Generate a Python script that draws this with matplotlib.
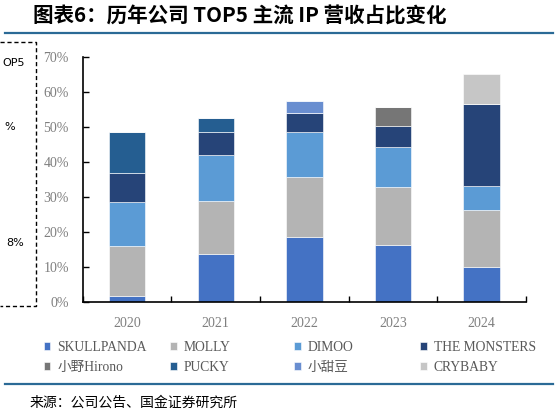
import matplotlib
matplotlib.use("Agg")
import matplotlib.pyplot as plt
import numpy as np
from matplotlib.lines import Line2D
from matplotlib.ticker import FuncFormatter

plt.rcParams["font.family"] = ["Liberation Serif", "Noto Sans CJK SC"]

years = ["2020", "2021", "2022", "2023", "2024"]
ip_names = ["SKULLPANDA", "MOLLY", "DIMOO", "THE MONSTERS",
            "小野Hirono", "PUCKY", "小甜豆", "CRYBABY"]
skullpanda = [1.5, 13.5, 18.5, 16.2, 9.9]
molly = [14.3, 15.4, 17.2, 16.5, 16.3]
dimoo = [12.8, 12.9, 12.8, 11.5, 6.9]
the_monsters = [8.1, 6.8, 5.4, 6.0, 23.5]
hirono = [0, 0, 0, 5.6, 0]
pucky = [11.9, 3.9, 0, 0, 0]
xiaotiandou = [0, 0, 3.6, 0, 0]
crybaby = [0, 0, 0, 0, 8.6]
series = [skullpanda, molly, dimoo, the_monsters, hirono, pucky, xiaotiandou, crybaby]
colors = ["#4472C4", "#B4B4B4", "#5B9BD5", "#264478",
          "#767676", "#255E91", "#698ED0", "#C6C6C6"]
y_ticks = [0, 10, 20, 30, 40, 50, 60, 70]

W, H = 559, 415
fig = plt.figure(figsize=(W / 100, H / 100), dpi=100)


def fx(px):
    return px / W


def fy(py):
    return 1 - py / H


# title + rules
fig.text(fx(33), fy(16), "图表6：历年公司 TOP5 主流 IP 营收占比变化", family=["Noto Sans CJK SC"],
         fontsize=14.8, fontweight="bold", style="italic", color="black", va="center", ha="left")
fig.add_artist(Line2D([fx(5), fx(553)], [fy(33.5), fy(33.5)], color="#2B6A96", lw=1.6))
fig.add_artist(Line2D([fx(5), fx(553)], [fy(384), fy(384)], color="#2B6A96", lw=1.6))
fig.text(fx(30), fy(403), "来源：公司公告、国金证券研究所", family=["Noto Sans CJK SC"],
         fontsize=10, color="black", va="center", ha="left")

# cropped dashed box on the left
fig.add_artist(Line2D([0, fx(36), fx(36), 0], [fy(42), fy(42), fy(306), fy(306)],
                      color="black", lw=1, ls=(0, (3, 2))))
fig.text(fx(2), fy(63), "OP5", family=["DejaVu Sans"], fontsize=8, ha="left", va="center")
fig.text(fx(4), fy(127), "%", family=["DejaVu Sans"], fontsize=8, ha="left", va="center")
fig.text(fx(6), fy(243), "8%", family=["DejaVu Sans"], fontsize=8, ha="left", va="center")

ax = fig.add_axes([fx(82.7), fy(301.5), fx(526) - fx(82.7), fy(57) - fy(301.5)])
x = np.arange(len(years))
bottom = np.zeros(len(years))
handles = []
for vals, name, c in zip(series, ip_names, colors):
    vals = np.array(vals, dtype=float)
    b = ax.bar(x, vals, 0.41, bottom=bottom, color=c, edgecolor="white", linewidth=0.4, label=name)
    handles.append(b)
    bottom += vals

ax.set_xlim(-0.5, len(years) - 0.5)
ax.set_ylim(0, 70)
ax.set_yticks(y_ticks)
ax.yaxis.set_major_formatter(FuncFormatter(lambda v, p: f"{v:.0f}%"))
ax.set_xticks(np.arange(len(years) + 1) - 0.5)
ax.set_xticklabels([])
ax.set_xticks(x, minor=True)
ax.set_xticklabels(years, minor=True)
ax.tick_params(axis="x", which="major", direction="in", length=4, width=1)
ax.tick_params(axis="x", which="minor", length=0, pad=11, labelsize=10, labelcolor="#7f7f7f")
ax.tick_params(axis="y", direction="in", length=4, width=1, pad=10, labelsize=10, labelcolor="#7f7f7f")
for s in ["top", "right"]:
    ax.spines[s].set_visible(False)
for s in ["left", "bottom"]:
    ax.spines[s].set_linewidth(1.2)

# legend, laid out row by row in four columns
col_x = [43.5, 170, 294, 420]
row_y = [347.3, 367.3]
for k in range(len(ip_names)):
    r, cidx = divmod(k, 4)
    fig.legend([handles[k]], [ip_names[k]], loc="center left",
               bbox_to_anchor=(fx(col_x[cidx]), fy(row_y[r])), frameon=False,
               fontsize=9.8, handlelength=0.5, handleheight=0.5, handletextpad=0.5,
               borderpad=0, borderaxespad=0, labelcolor="#595959")

fig.savefig("out.png", dpi=100)
